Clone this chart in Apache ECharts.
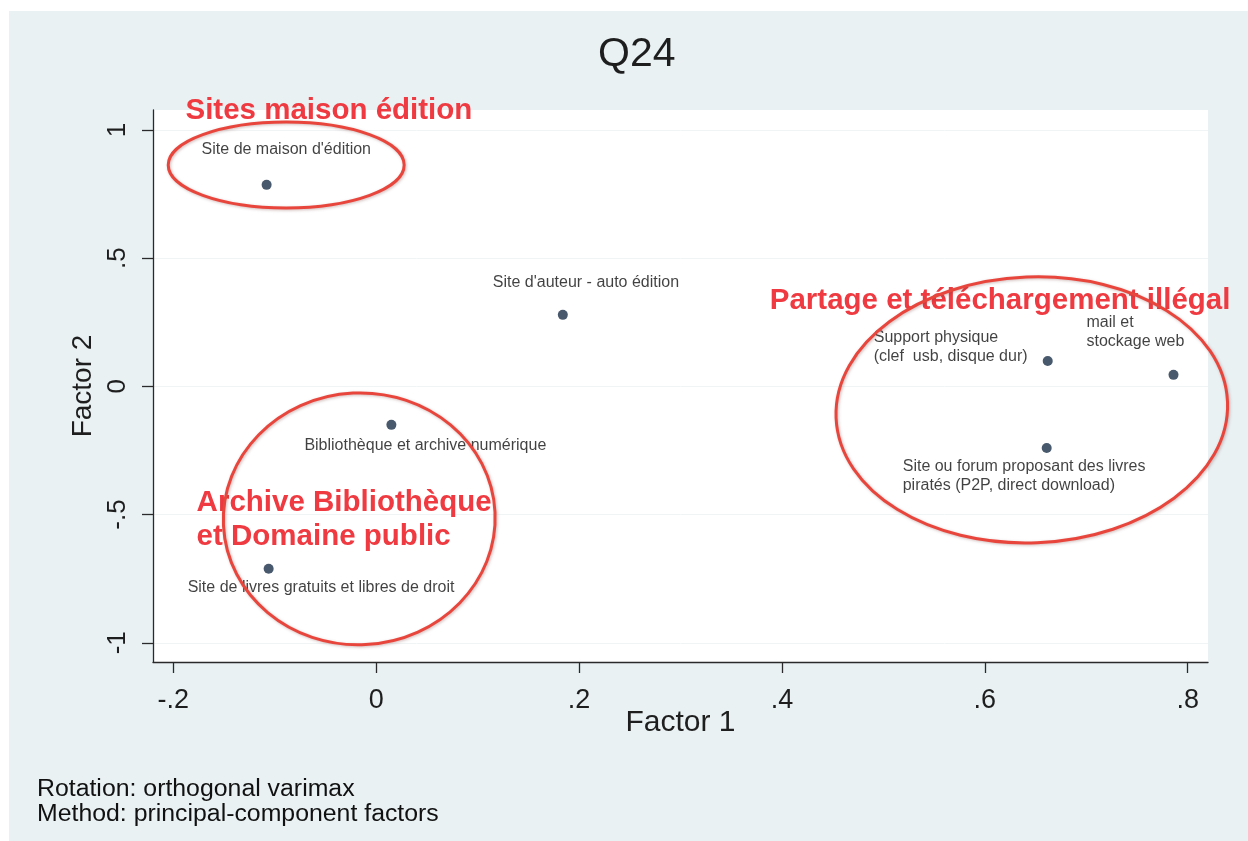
<!DOCTYPE html>
<html><head><meta charset="utf-8">
<script src="https://cdn.jsdelivr.net/npm/echarts@6/dist/echarts.min.js"></script>
<style>
html,body{margin:0;padding:0;background:#fff;width:1248px;height:841px;overflow:hidden;}
#chart{position:absolute;left:9px;top:11px;width:1239px;height:830px;background:#e9f1f3;}
</style></head><body><div id="chart"></div>
<script>
// ---- data ----
const itemNames = [
  "Site de maison d'édition",
  "Site d'auteur - auto édition",
  "Support physique\n(clef  usb, disque dur)",
  "mail et\nstockage web",
  "Site ou forum proposant des livres\npiratés (P2P, direct download)",
  "Bibliothèque et archive numérique",
  "Site de livres gratuits et libres de droit"
];
const factor1 = [-0.108, 0.184, 0.662, 0.786, 0.661, 0.015, -0.106];
const factor2 = [0.786, 0.279, 0.099, 0.045, -0.240, -0.150, -0.711];
const xTicks = [-0.2, 0, 0.2, 0.4, 0.6, 0.8];
const yTicks = [-1, -0.5, 0, 0.5, 1];
const chartTitle = "Q24";
const xName = "Factor 1";
const yName = "Factor 2";
const noteLines = ["Rotation: orthogonal varimax", "Method: principal-component factors"];
const groupNames = ["Sites maison édition", "Partage et téléchargement illégal", "Archive Bibliothèque\net Domaine public"];

// ---- annotation geometry (data units) and label placement (px offsets) ----
const groupTextAnchor = [[-0.188, 1.074], [0.388, 0.333], [-0.177, -0.520]];
const groupEllipse = [
  {cx: -0.0887, cy: 0.8636, rx: 0.1163, ry: 0.1676, rot: 0.0},
  {cx: 0.6463, cy: -0.0916, rx: 0.1931, ry: 0.5185, rot: 0.04},
  {cx: -0.0167, cy: -0.5166, rx: 0.1340, ry: 0.4910, rot: 0.05}
];
const labelOffset = [[-65, -35], [-70, -32], [-174, -13.5], [-87, -42.5], [-144, 28], [-87, 21], [-81, 19]];

const FONT = "'Liberation Sans', Arial, Helvetica, sans-serif";
const SYM = 10;

const chart = echarts.init(document.getElementById('chart'));

const points = itemNames.map((n, i) => ({
  name: n,
  value: [factor1[i], factor2[i]],
  label: {position: [labelOffset[i][0] + SYM / 2, labelOffset[i][1] + SYM / 2]}
}));

const tickFmt = v => { const s = String(+(+v).toFixed(2)); return s.replace(/^(-?)0\./, '$1.'); };

chart.setOption({
  animation: false,
  title: {
    text: chartTitle, left: 584, top: 18,
    textStyle: {fontFamily: FONT, fontSize: 41, fontWeight: 'normal', color: '#1e1e1e'}
  },
  grid: {left: 144, top: 99, right: 40, bottom: 179, show: true, backgroundColor: '#ffffff', borderWidth: 0},
  xAxis: {
    type: 'value', min: -0.22, max: 0.82,
    name: xName, nameLocation: 'middle', nameGap: 46, nameMoveOverlap: false,
    nameTextStyle: {fontFamily: FONT, fontSize: 30, color: '#1e1e1e'},
    axisLine: {show: true, onZero: false, lineStyle: {color: '#2a2a2a', width: 1.3}},
    axisTick: {show: true, length: 11, customValues: xTicks, lineStyle: {color: '#2a2a2a', width: 1.3}},
    axisLabel: {customValues: xTicks, margin: 25, fontFamily: FONT, fontSize: 27, color: '#1e1e1e', formatter: tickFmt},
    splitLine: {show: false}
  },
  yAxis: {
    type: 'value', min: -1.075, max: 1.078,
    name: yName, nameLocation: 'middle', nameGap: 55, nameRotate: 90,
    nameTextStyle: {fontFamily: FONT, fontSize: 28, color: '#1e1e1e'},
    axisLine: {show: true, onZero: false, lineStyle: {color: '#2a2a2a', width: 1.3}},
    axisTick: {show: true, length: 11, customValues: yTicks, lineStyle: {color: '#2a2a2a', width: 1.3}},
    axisLabel: {customValues: yTicks, rotate: 90, margin: 22, fontFamily: FONT, fontSize: 26, color: '#1e1e1e', formatter: tickFmt},
    splitLine: {show: true, lineStyle: {color: '#f1f4f5', width: 1}}
  },
  series: [{
    type: 'scatter',
    symbol: 'circle',
    symbolSize: SYM,
    itemStyle: {color: '#1a2f49'},
    label: {show: true, formatter: '{b}', align: 'left', verticalAlign: 'middle',
      fontFamily: FONT, fontSize: 16, lineHeight: 19, color: '#111'},
    data: points
  }]
});

// annotations placed through the grid's coordinate conversion
const toPx = p => chart.convertToPixel({gridIndex: 0}, p);
const graphics = [];
groupEllipse.forEach((e, i) => {
  const c = toPx([e.cx, e.cy]);
  const rxp = Math.abs(toPx([e.cx + e.rx, e.cy])[0] - c[0]);
  const ryp = Math.abs(toPx([e.cx, e.cy + e.ry])[1] - c[1]);
  graphics.push({
    type: 'ellipse', id: 'ell' + i, x: c[0], y: c[1], rotation: e.rot, z: 120,
    shape: {cx: 0, cy: 0, rx: rxp, ry: ryp},
    style: {fill: null, stroke: '#e8463c', lineWidth: 3, shadowBlur: 3, shadowColor: 'rgba(120,60,60,0.35)', shadowOffsetX: 1, shadowOffsetY: 1}
  });
});
groupNames.forEach((t, i) => {
  const p = toPx(groupTextAnchor[i]);
  graphics.push({
    type: 'text', id: 'grp' + i, x: p[0], y: p[1], z: 110,
    style: {text: t, fill: '#ee3a40', font: "bold 29.5px " + FONT, textAlign: 'left', textVerticalAlign: 'middle', lineHeight: 34}
  });
});
noteLines.forEach((t, i) => {
  graphics.push({
    type: 'text', id: 'note' + i, x: 28, y: 779 + i * 25, scaleX: 1.08, z: 110,
    style: {text: t, fill: '#111', font: "23px " + FONT, textAlign: 'left', textVerticalAlign: 'middle'}
  });
});
chart.setOption({graphic: graphics});
</script></body></html>
